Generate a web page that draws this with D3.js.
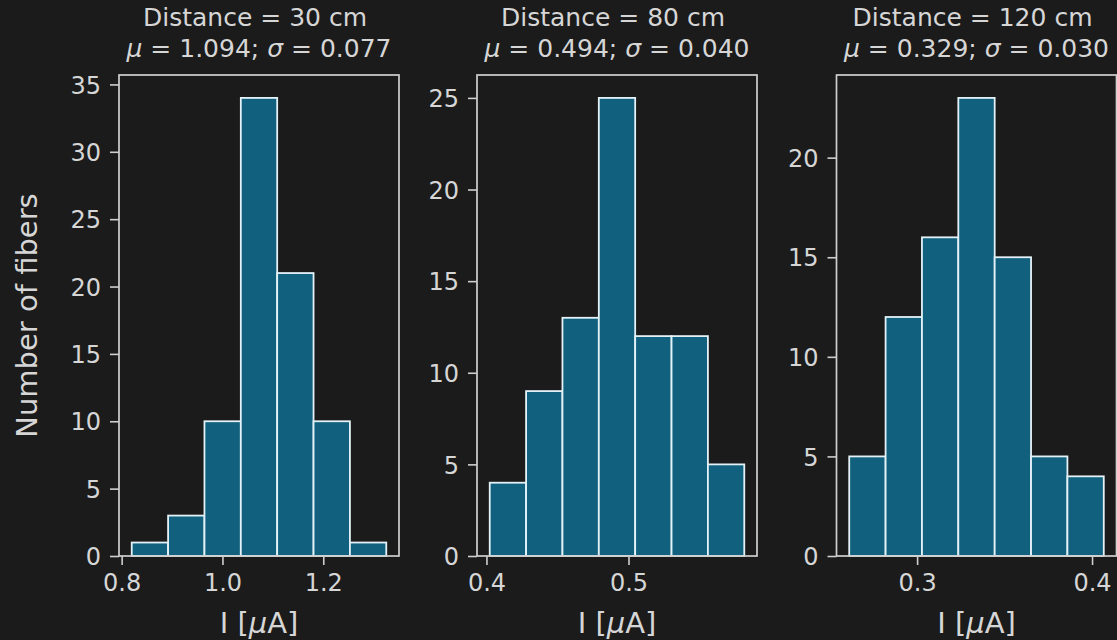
<!DOCTYPE html>
<html><head><meta charset="utf-8">
<script src="https://cdn.jsdelivr.net/npm/d3@7"></script>
<style>html,body{margin:0;padding:0;background:#1b1b1b;overflow:hidden}</style>
</head><body><svg id="c" width="1117" height="640"></svg>
<script>
// ---- data ----
const distances = [30, 80, 120];
const means = ["1.094", "0.494", "0.329"];
const sigmas = ["0.077", "0.040", "0.030"];
const binLo = [0.820, 0.4023, 0.2612];
const binHi = [1.325, 0.5815, 0.4067];
const counts30 = [1, 3, 10, 34, 21, 10, 1];
const counts80 = [4, 9, 13, 25, 12, 12, 5];
const counts120 = [5, 12, 16, 23, 15, 5, 4];
const xTicks30 = [0.8, 1.0, 1.2];
const xTicks80 = [0.4, 0.5];
const xTicks120 = [0.3, 0.4];
const yTicks30 = [0, 5, 10, 15, 20, 25, 30, 35];
const yTicks80 = [0, 5, 10, 15, 20, 25];
const yTicks120 = [0, 5, 10, 15, 20];
const xLabel = "I [μA]";
const yLabel = "Number of fibers";

// ---- layout / style ----
const panels = [
  {counts: counts30, xt: xTicks30, yt: yTicks30},
  {counts: counts80, xt: xTicks80, yt: yTicks80},
  {counts: counts120, xt: xTicks120, yt: yTicks120}
];
const lefts = [119, 477, 836.5];
const W = 280, topY = 75, bottomY = 556;
const FONT = "'DejaVu Sans', sans-serif";
const TXT = "#d6d6d6";
const FRAME = "#cfcfcf";
const FILL = "#10607e";
const EDGE = "#e4f2f8";

const svg = d3.select("#c");
svg.append("rect").attr("width", 1117).attr("height", 640).attr("fill", "#1b1b1b");

panels.forEach((p, i) => {
  const n = p.counts.length;
  const lo = binLo[i], hi = binHi[i], r = hi - lo;
  const x = d3.scaleLinear().domain([lo - 0.05 * r, hi + 0.05 * r]).range([lefts[i], lefts[i] + W]);
  const y = d3.scaleLinear().domain([0, d3.max(p.counts) * 1.05]).range([bottomY, topY]);
  const bw = r / n;
  const bins = p.counts.map((c, k) => ({x0: lo + k * bw, x1: lo + (k + 1) * bw, c}));

  const g = svg.append("g");
  g.selectAll("rect.bar").data(bins).join("rect")
    .attr("class", "bar")
    .attr("x", d => x(d.x0)).attr("width", d => x(d.x1) - x(d.x0))
    .attr("y", d => y(d.c)).attr("height", d => y(0) - y(d.c))
    .attr("fill", FILL).attr("stroke", EDGE).attr("stroke-width", 1.8);

  // frame
  g.append("rect").attr("x", lefts[i]).attr("y", topY).attr("width", W).attr("height", bottomY - topY)
    .attr("fill", "none").attr("stroke", FRAME).attr("stroke-width", 1.7);

  const ax = g.append("g").attr("transform", `translate(0,${bottomY})`)
    .call(d3.axisBottom(x).tickValues(p.xt).tickFormat(d3.format(".1f")).tickSize(9).tickPadding(8));
  const ay = g.append("g").attr("transform", `translate(${lefts[i]},0)`)
    .call(d3.axisLeft(y).tickValues(p.yt).tickFormat(d3.format("d")).tickSize(9).tickPadding(9));
  [ax, ay].forEach(a => {
    a.select(".domain").remove();
    a.selectAll("line").attr("stroke", FRAME).attr("stroke-width", 1.6);
    a.selectAll("text").attr("fill", TXT).style("font-family", FONT).style("font-size", "24px");
  });
  ay.selectAll("text").attr("dy", "0.36em");
  ax.selectAll("text").attr("dy", "0.76em");

  const cx = lefts[i] + W / 2;
  g.append("text").attr("x", cx).attr("y", 26).attr("text-anchor", "middle")
    .attr("fill", TXT).style("font-family", FONT).style("font-size", "25px")
    .text(`Distance = ${distances[i]} cm\u00a0`);
  const t2 = g.append("text").attr("x", cx).attr("y", 57).attr("text-anchor", "middle")
    .attr("fill", TXT).style("font-family", FONT).style("font-size", "25px");
  t2.append("tspan").style("font-style", "italic").text("μ");
  t2.append("tspan").text(` = ${means[i]}; `);
  t2.append("tspan").style("font-style", "italic").text("σ");
  t2.append("tspan").text(` = ${sigmas[i]}`);

  g.append("text").attr("x", cx).attr("y", 633).attr("text-anchor", "middle")
    .attr("fill", TXT).style("font-family", FONT).style("font-size", "29px")
    .html("I [<tspan font-style='italic'>μ</tspan>A]");

  if (i === 0) {
    g.append("text").attr("transform", `translate(37,${(topY + bottomY) / 2}) rotate(-90)`)
      .attr("text-anchor", "middle").attr("fill", TXT)
      .style("font-family", FONT).style("font-size", "29px").text(yLabel);
  }
});
</script></body></html>
